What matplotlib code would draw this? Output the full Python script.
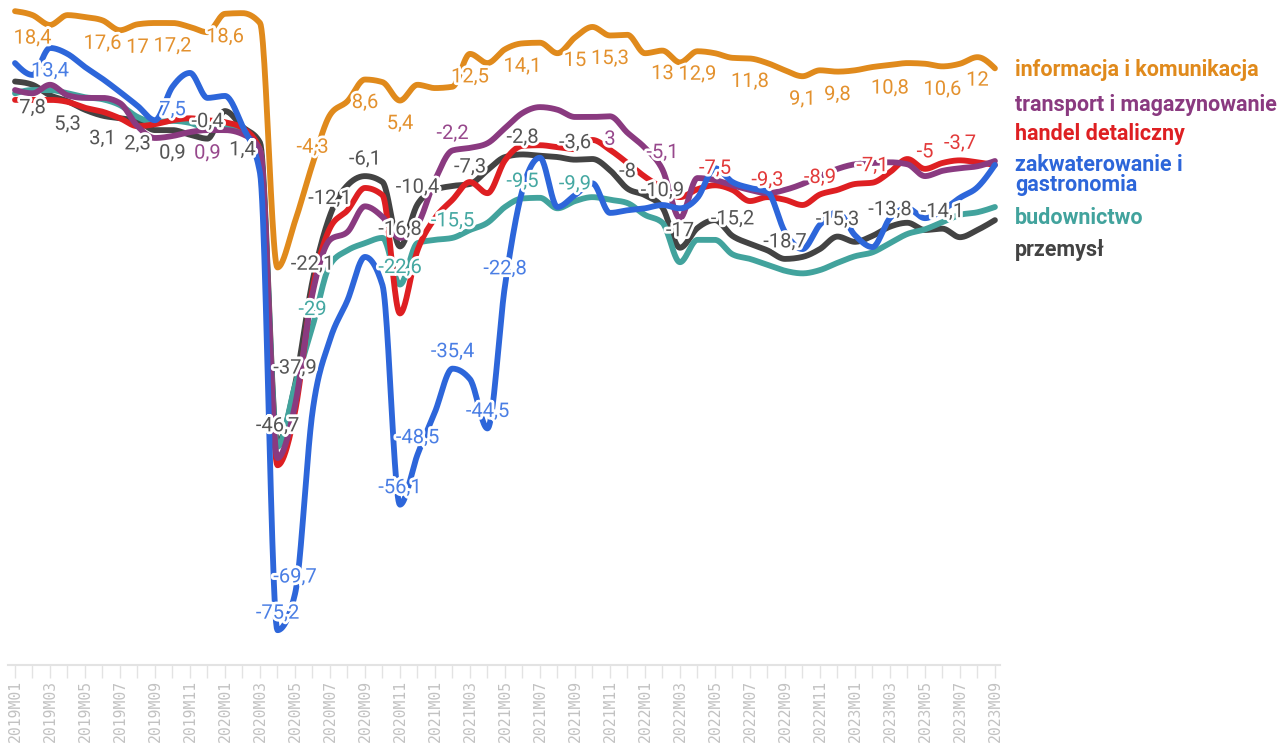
import numpy as np
import matplotlib
matplotlib.use("Agg")
import matplotlib.pyplot as plt
import matplotlib.patheffects as pe

# Monthly periods 2019M01 .. 2023M09
months = [f"{y}M{m:02d}" for y in range(2019, 2024) for m in range(1, 13)][:57]

informacja = [19.0, 18.4, 16.9, 18.4, 18.1, 17.6, 16.1, 17.0, 17.2, 17.2, 16.6, 15.8,
              18.6, 18.7, 17.2, -20.0, -13.0, -4.3, 3.2, 5.3, 8.6, 8.2, 5.4, 7.8,
              7.3, 7.5, 12.5, 11.1, 13.2, 14.1, 14.2, 12.6, 15.0, 16.6, 15.3, 15.4,
              12.6, 13.0, 11.2, 12.9, 12.6, 11.9, 11.8, 11.1, 10.0, 9.1, 10.0, 9.8,
              10.0, 10.5, 10.8, 11.1, 11.0, 10.6, 11.0, 12.0, 10.3]
transport = [7.0, 6.5, 7.8, 6.2, 5.8, 5.8, 5.0, 1.5, -0.3, 0.0, 0.6, 0.9,
             0.9, 0.3, -2.1, -49.0, -41.0, -24.0, -15.8, -14.6, -10.7, -12.3, -15.5, -13.5,
             -6.7, -2.2, -1.8, -1.1, 1.2, 3.5, 4.4, 4.0, 2.9, 2.9, 3.0, 0.5,
             -1.8, -5.1, -12.5, -6.4, -6.7, -7.5, -8.2, -8.7, -8.2, -7.3, -6.1, -5.0,
             -4.3, -4.1, -4.0, -4.3, -6.1, -5.3, -4.9, -4.6, -3.8]
handel = [5.5, 5.5, 5.5, 5.2, 4.3, 3.7, 2.7, 1.5, 1.8, 2.4, 2.7, 2.4,
          2.1, 1.2, -2.1, -50.1, -42.0, -23.4, -14.0, -11.3, -7.9, -9.0, -27.0, -17.4,
          -12.5, -9.7, -7.0, -8.7, -3.7, -1.5, -1.4, -1.7, -2.0, -0.6, -2.1, -4.1,
          -6.2, -7.9, -9.3, -8.1, -7.5, -8.2, -9.9, -9.3, -9.7, -10.5, -8.9, -8.2,
          -7.3, -7.1, -5.5, -3.5, -5.0, -4.1, -3.7, -4.0, -4.4]
zakwaterowanie = [11.1, 9.3, 13.4, 12.5, 10.5, 8.7, 6.7, 4.6, 2.4, 7.5, 9.6, 5.8,
                  6.1, 1.5, -5.6, -75.2, -69.7, -42.0, -31.0, -25.0, -18.4, -22.7, -56.1, -48.5,
                  -42.0, -35.4, -37.0, -44.5, -22.8, -8.2, -3.3, -10.8, -9.0, -7.2, -11.7, -11.3,
                  -11.0, -10.5, -11.0, -9.4, -4.9, -7.0, -7.9, -8.5, -14.6, -17.2, -13.5, -11.6,
                  -15.1, -16.9, -12.5, -11.0, -12.5, -11.3, -9.4, -7.8, -4.4]
budownictwo = [6.5, 7.0, 7.0, 6.5, 5.9, 5.6, 4.7, 2.9, 2.1, 2.3, 2.0, 1.2,
               1.5, 0.6, -2.1, -47.3, -38.0, -29.0, -19.6, -17.4, -16.3, -15.5, -22.6, -16.3,
               -15.8, -15.5, -14.3, -13.2, -10.8, -9.5, -9.4, -11.0, -9.9, -9.3, -9.7, -10.2,
               -12.0, -13.2, -19.2, -15.8, -15.8, -18.0, -18.7, -19.6, -20.5, -20.9, -20.4, -19.3,
               -18.3, -17.7, -16.3, -14.9, -14.2, -13.1, -12.0, -11.6, -10.8]
przemysl = [8.3, 7.8, 6.2, 5.3, 4.0, 3.1, 2.7, 2.3, 0.9, 0.9, 0.2, -0.4,
            3.8, 1.4, -1.0, -46.7, -37.9, -22.1, -12.1, -7.5, -6.1, -7.0, -16.8, -10.4,
            -8.2, -7.6, -7.3, -5.2, -3.2, -2.8, -3.0, -3.2, -3.6, -3.5, -5.2, -8.0,
            -9.0, -10.9, -17.0, -14.0, -12.8, -15.2, -16.4, -17.4, -18.7, -18.4, -17.2, -15.3,
            -16.1, -15.2, -13.8, -13.2, -14.3, -14.1, -15.4, -14.3, -12.8]

series_names = ["informacja i komunikacja", "transport i magazynowanie", "handel detaliczny",
                "zakwaterowanie i\ngastronomia", "budownictwo", "przemysł"]

# months (indices) that carry a value label, per series
labelled = {
    "informacja": [1, 5, 7, 9, 12, 17, 20, 22, 26, 29, 32, 34, 37, 39, 42, 45, 47, 50, 53, 55],
    "zakwaterowanie": [2, 9, 15, 16, 22, 23, 25, 27, 28],
    "przemysl": [1, 3, 5, 7, 9, 11, 13, 15, 16, 17, 18, 20, 22, 23, 26, 29, 32, 35, 37, 38,
                 41, 44, 47, 50, 53],
    "transport": [11, 25, 34, 37],
    "handel": [40, 43, 46, 49, 52, 54],
    "budownictwo": [17, 22, 25, 29, 32],
}

data = {
    "informacja": informacja, "transport": transport, "handel": handel,
    "zakwaterowanie": zakwaterowanie, "budownictwo": budownictwo, "przemysl": przemysl,
}
line_color = {
    "informacja": "#E08A1C", "transport": "#8A3A80", "handel": "#DE1F22",
    "zakwaterowanie": "#2D66DA", "budownictwo": "#42A39D", "przemysl": "#434343",
}
label_color = {
    "informacja": "#E3912E", "transport": "#97488C", "handel": "#E23A3A",
    "zakwaterowanie": "#4A7EE4", "budownictwo": "#45A8A2", "przemysl": "#555555",
}
draw_order = ["przemysl", "budownictwo", "handel", "transport", "zakwaterowanie", "informacja"]


def monotone_curve(y, n=24):
    """Monotone cubic interpolation (same idea as d3.curveMonotoneX)."""
    y = np.asarray(y, float)
    x = np.arange(len(y), dtype=float)
    d = np.diff(y)
    m = np.zeros_like(y)
    for k in range(1, len(y) - 1):
        s0, s1 = d[k - 1], d[k]
        p = (s0 + s1) / 2.0
        m[k] = (np.sign(s0) + np.sign(s1)) * min(abs(s0), abs(s1), 0.5 * abs(p))
    m[0] = (3 * d[0] - m[1]) / 2.0
    m[-1] = (3 * d[-1] - m[-2]) / 2.0
    xs, ys = [], []
    t = np.linspace(0, 1, n, endpoint=False)
    h00 = 2 * t**3 - 3 * t**2 + 1
    h10 = t**3 - 2 * t**2 + t
    h01 = -2 * t**3 + 3 * t**2
    h11 = t**3 - t**2
    for k in range(len(y) - 1):
        xs.append(x[k] + t)
        ys.append(h00 * y[k] + h10 * m[k] + h01 * y[k + 1] + h11 * m[k + 1])
    xs.append([x[-1]])
    ys.append([y[-1]])
    return np.concatenate(xs), np.concatenate(ys)


W, H = 1285, 747
fig = plt.figure(figsize=(W / 100, H / 100), dpi=100)
ax_left, ax_right, ax_bottom = 8, 1000, 665
ax = fig.add_axes([ax_left / W, 1 - ax_bottom / H, (ax_right - ax_left) / W, ax_bottom / H])

for key in draw_order:
    xs, ys = monotone_curve(data[key])
    ax.plot(xs, ys, color=line_color[key], lw=4.2, solid_capstyle="round",
            solid_joinstyle="round", clip_on=False, zorder=2)

halo = [pe.withStroke(linewidth=4, foreground="white")]
for key in draw_order:
    vals = data[key]
    for i in labelled[key]:
        v = vals[i]
        txt = f"{v:g}".replace(".", ",")
        dy = -23 if v >= 0 else 17
        ax.annotate(txt, (i, v), xytext=(0, dy), textcoords="offset pixels",
                    ha="center", va="center", fontsize=14.5, family="Roboto",
                    color=label_color[key], path_effects=halo, zorder=5,
                    annotation_clip=False)

ax.set_xlim(-0.4, 56.29)
ax.set_ylim(-80.5, 20.7)
for s in ["top", "right", "left"]:
    ax.spines[s].set_visible(False)
ax.spines["bottom"].set_color("#e3e3e3")
ax.spines["bottom"].set_linewidth(1.5)
ax.set_yticks([])
ax.set_xticks(range(0, 57, 2))
ax.set_xticklabels(months[::2], rotation=90, family="DejaVu Sans Mono",
                   fontsize=10.6, color="#c2c2c2")
ax.set_xticks(range(57), minor=True)
ax.tick_params(axis="x", which="both", length=9, width=1, color="#e3e3e3", pad=2)

# series names at the right end of the lines
legend_y = {"informacja": 70, "transport": 105, "handel": 134,
            "zakwaterowanie": 175, "budownictwo": 218, "przemysl": 250}
for key, name in zip(["informacja", "transport", "handel", "zakwaterowanie",
                      "budownictwo", "przemysl"], series_names):
    fig.text(1015 / W, 1 - legend_y[key] / H, name, ha="left", va="center",
             fontsize=15.5, fontweight="bold", family="Roboto",
             color=line_color[key], linespacing=0.9)

fig.savefig("out.png", dpi=100, facecolor="white")
